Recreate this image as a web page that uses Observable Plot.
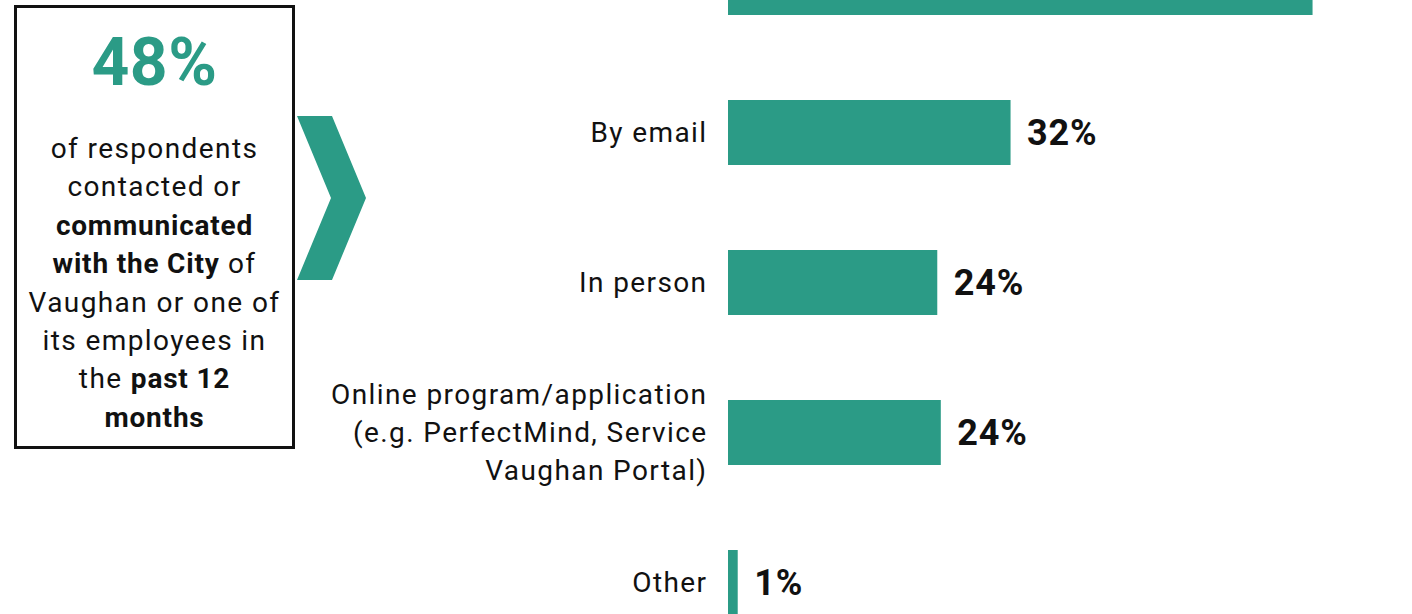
<!DOCTYPE html>
<html>
<head>
<meta charset="utf-8">
<script src="https://cdn.jsdelivr.net/npm/d3@7"></script>
<script src="https://cdn.jsdelivr.net/npm/@observablehq/plot@0.6"></script>
<style>
  html, body { margin: 0; padding: 0; background: #fff; }
  body { font-family: Roboto, "Noto Sans", sans-serif; }
  #wrap { position: relative; width: 1412px; height: 614px; overflow: hidden; background: #fff; }
  #chart { position: absolute; left: 0; top: 0; }
  #chart g[text-anchor="end"] text { letter-spacing: 1.4px; }
  #chart g[text-anchor="start"] text { letter-spacing: 0.8px; }
  #box { position: absolute; left: 14px; top: 5px; width: 281px; height: 444px; box-sizing: border-box; border: 3px solid #111; }
  #big { position: absolute; left: 14px; top: 30px; width: 281px; text-align: center; font-size: 66px; line-height: 66px; font-weight: 700; color: #2b9b86; letter-spacing: 0.5px; }
  #body { position: absolute; left: 14px; top: 130px; width: 281px; text-align: center; font-size: 28px; line-height: 38.4px; color: #111; letter-spacing: 1.4px; }
  #body b { font-weight: 700; letter-spacing: 0.8px; }
  #chev { position: absolute; left: 0; top: 0; }
</style>
</head>
<body>
<div id="wrap">
  <div id="chart"></div>
  <div id="box"></div>
  <div id="big">48%</div>
  <div id="body">of respondents<br>contacted or<br><b>communicated</b><br><b>with the City</b> of<br>Vaughan or one of<br>its employees in<br>the <b>past 12</b><br><b>months</b></div>
  <svg id="chev" width="400" height="300"><polygon points="297,116 332,116 366,198 332,280 297,280 331,198" fill="#2b9b86"/></svg>
</div>
<script>
const categories = [
  "By phone",
  "By email",
  "In person",
  "Online program/application\n(e.g. PerfectMind, Service\nVaughan Portal)",
  "Other"
];
const values = [66.2, 32.0, 23.7, 24.1, 1.1];
const valueLabels = ["66%", "32%", "24%", "24%", "1%"];

const data = categories.map((c, i) => ({category: c, value: values[i], label: valueLabels[i]}));
// the first row's labels sit above the visible frame in the reference
const visible = data.slice(1);
const teal = "#2b9b86";

const chart = Plot.plot({
  width: 1412,
  height: 614,
  marginLeft: 0, marginRight: 0, marginTop: 0, marginBottom: 0,
  style: {fontFamily: "Roboto, 'Noto Sans', sans-serif", overflow: "hidden", background: "transparent"},
  x: {domain: [0, 100], range: [728, 1611], axis: null},
  y: {domain: categories, range: [-51.7, 616], paddingInner: 0.5686, paddingOuter: 0, axis: null},
  marks: [
    Plot.barX(data, {x: "value", y: "category", fill: teal}),
    Plot.text(visible, {x: 0, y: "category", text: "category", textAnchor: "end", dx: -21, dy: -3, fontSize: 28, lineHeight: 1.36, fill: "#111"}),
    Plot.text(visible, {x: "value", y: "category", text: "label", textAnchor: "start", dx: 16, dy: 0, fontSize: 36, fontWeight: 700, fill: "#111"})
  ]
});
document.getElementById("chart").appendChild(chart);
</script>
</body>
</html>
